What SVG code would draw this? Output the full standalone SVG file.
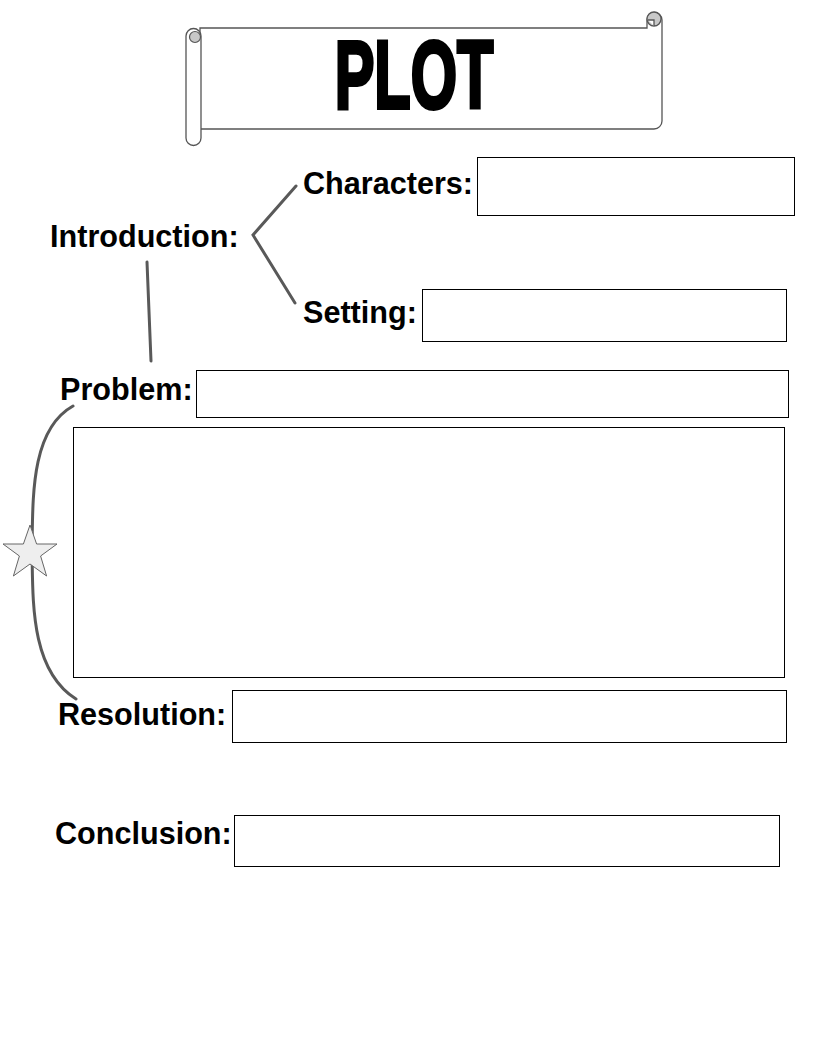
<svg xmlns="http://www.w3.org/2000/svg" width="816" height="1056" viewBox="0 0 816 1056">
<style>
.lbl{font-family:"Liberation Sans",Arial,sans-serif;font-weight:bold;font-size:30.6px;fill:#000}
.box{fill:#fff;stroke:#000;stroke-width:1}
.conn{fill:none;stroke:#595959;stroke-width:3;stroke-linecap:round}
.scroll{fill:#fff;stroke:#555;stroke-width:1.3}
</style>
<rect width="816" height="1056" fill="#fff"/>
<g id="title">
  <path class="scroll" d="M200,28 H647 V20 A7,7 0 0 1 662,20 V121 A8,8 0 0 1 654,129 H200 Z"/>
  <circle cx="654" cy="19" r="7" fill="#c8c8c8" stroke="#555" stroke-width="1.3"/>
  <path class="scroll" d="M654,26 V20 H648"/>
  <path class="scroll" d="M186,36 A7.5,7.5 0 0 1 201,36 V138 A7.5,7.5 0 0 1 186,138 Z"/>
  <circle cx="195" cy="37" r="5.5" fill="#c8c8c8" stroke="#555" stroke-width="1.2"/>
  <text x="0" y="0" transform="translate(414,108) scale(0.62,1)" text-anchor="middle" style="font-family:'Liberation Sans',Arial,sans-serif;font-weight:bold;font-size:96px;fill:#000;stroke:#000;stroke-width:4;stroke-linejoin:miter">PLOT</text>
</g>
<g id="connectors">
  <path class="conn" d="M296,186 L253,235 L295,303"/>
  <path class="conn" d="M147,262 L151,361"/>
  <path class="conn" d="M73,406 C30,430 33,500 32,550 C33,600 30,670 76,699"/>
</g>
<g id="star">
  <polygon points="30,525 36.6,544 57,544 40.6,556 46.6,576 30,564 13.4,576 19.4,556 3,544 23.4,544" fill="#eeeeee" stroke="#666" stroke-width="1"/>
</g>
<g id="introduction"><text class="lbl" x="50" y="247">Introduction:</text></g>
<g id="characters">
  <text class="lbl" x="303" y="194">Characters:</text>
  <rect class="box" x="477.5" y="157.5" width="317" height="58"/>
</g>
<g id="setting">
  <text class="lbl" x="303" y="323">Setting:</text>
  <rect class="box" x="422.5" y="289.5" width="364" height="52"/>
</g>
<g id="problem">
  <text class="lbl" x="60" y="400">Problem:</text>
  <rect class="box" x="196.5" y="370.5" width="592" height="47"/>
</g>
<g id="events">
  <rect class="box" x="73.5" y="427.5" width="711" height="250"/>
</g>
<g id="resolution">
  <text class="lbl" x="58" y="725">Resolution:</text>
  <rect class="box" x="232.5" y="690.5" width="554" height="52"/>
</g>
<g id="conclusion">
  <text class="lbl" x="55" y="844">Conclusion:</text>
  <rect class="box" x="234.5" y="815.5" width="545" height="51"/>
</g>
</svg>
